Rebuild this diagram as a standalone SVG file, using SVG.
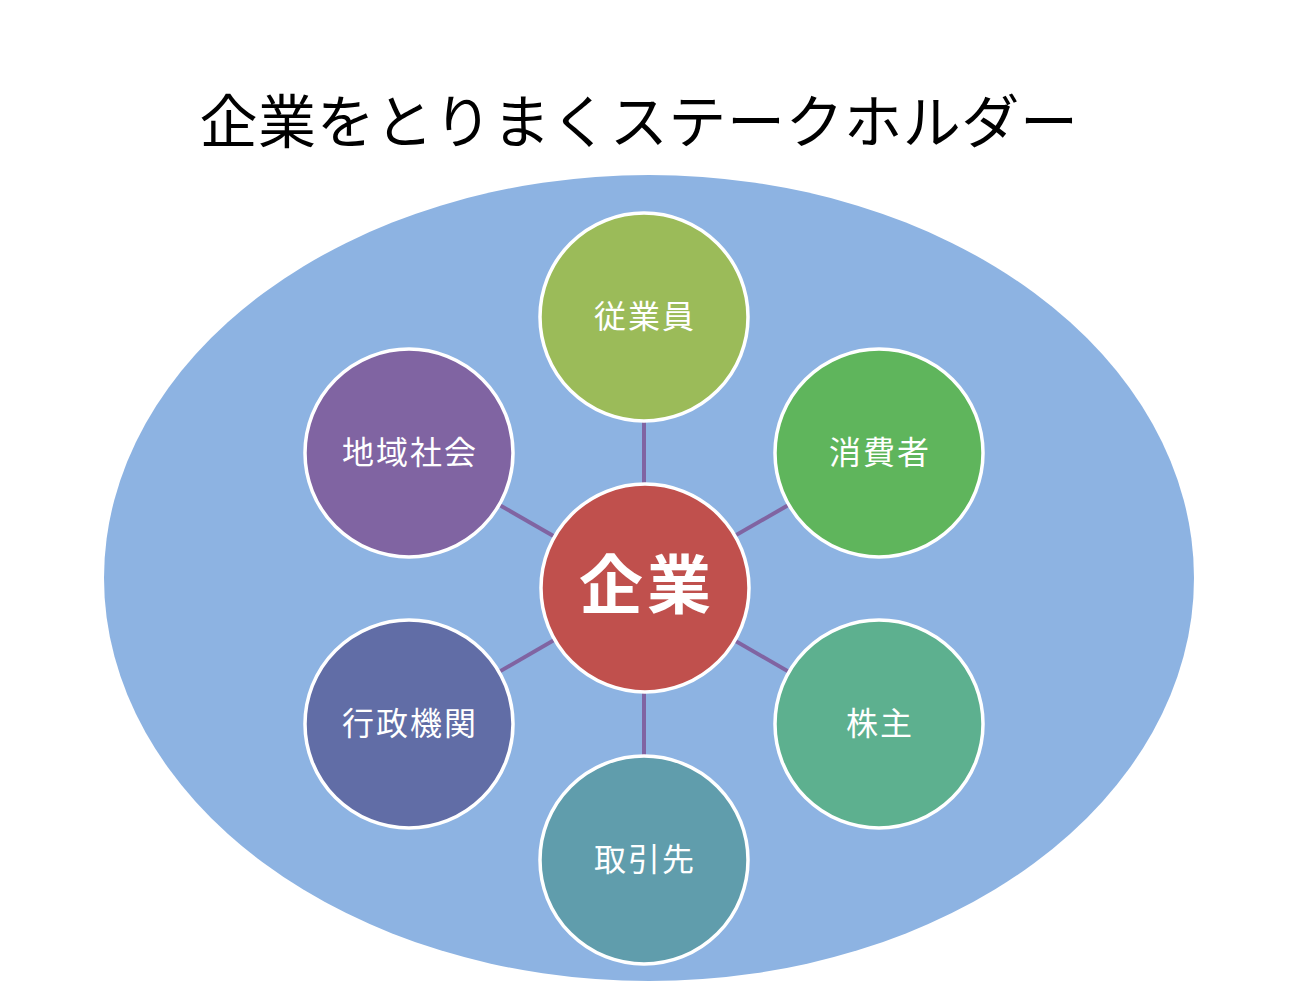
<svg xmlns="http://www.w3.org/2000/svg" width="1289" height="982" viewBox="0 0 1289 982">
<style>
.node{stroke:#FFFFFF;stroke-width:3.5}
.lbl{font-family:"Noto Sans CJK JP","Noto Sans CJK SC",sans-serif;font-size:32px;fill:#FFFFFF;text-anchor:middle;letter-spacing:2px}
.conn{stroke:#8064A2;stroke-width:4;fill:none}
.title{font-family:"Noto Sans CJK JP","Noto Sans CJK SC",sans-serif;font-size:58px;fill:#000000;text-anchor:middle;letter-spacing:0.6px}
</style>
<rect width="1289" height="982" fill="#FFFFFF"/>
<text class="title" x="639" y="143">企業をとりまくステークホルダー</text>
<ellipse id="background" cx="649" cy="578" rx="545" ry="403" fill="#8DB3E2"/>
<g id="connectors">
<line class="conn" x1="644" y1="588" x2="644" y2="317"/>
<line class="conn" x1="644" y1="588" x2="879" y2="453"/>
<line class="conn" x1="644" y1="588" x2="879" y2="724"/>
<line class="conn" x1="644" y1="588" x2="644" y2="860"/>
<line class="conn" x1="644" y1="588" x2="409" y2="724"/>
<line class="conn" x1="644" y1="588" x2="409" y2="453"/>
</g>
<g id="employees">
<circle class="node" cx="644" cy="317" r="104" fill="#9BBB59"/>
<text class="lbl" x="645" y="328">従業員</text>
</g>
<g id="consumers">
<circle class="node" cx="879" cy="453" r="104" fill="#5FB55C"/>
<text class="lbl" x="880" y="464">消費者</text>
</g>
<g id="shareholders">
<circle class="node" cx="879" cy="724" r="104" fill="#5DB08F"/>
<text class="lbl" x="880" y="735">株主</text>
</g>
<g id="partners">
<circle class="node" cx="644" cy="860" r="104" fill="#609DAC"/>
<text class="lbl" x="645" y="871">取引先</text>
</g>
<g id="government">
<circle class="node" cx="409" cy="724" r="104" fill="#616DA6"/>
<text class="lbl" x="410" y="735">行政機関</text>
</g>
<g id="community">
<circle class="node" cx="409" cy="453" r="104" fill="#8064A2"/>
<text class="lbl" x="410" y="464">地域社会</text>
</g>
<g id="company">
<circle class="node" cx="645" cy="588" r="104" fill="#C0504D"/>
<text x="647" y="608" font-family="'Noto Sans CJK JP','Noto Sans CJK SC',sans-serif" font-size="64" font-weight="bold" fill="#FFFFFF" text-anchor="middle" letter-spacing="4">企業</text>
</g>
</svg>
